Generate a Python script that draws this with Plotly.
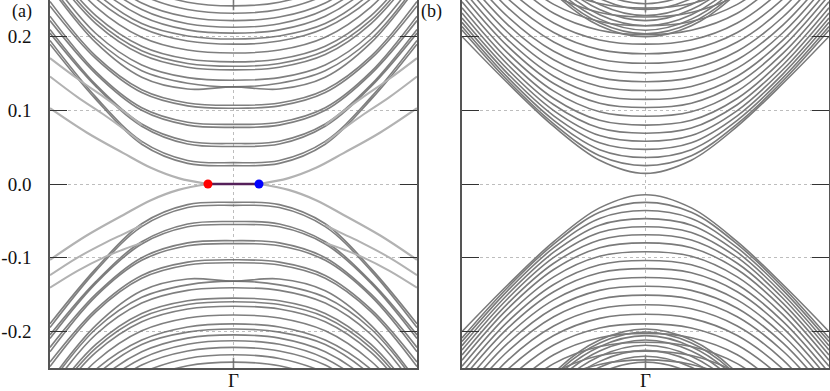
import plotly.graph_objects as go

# k-points (fraction of the path from Gamma to the zone edge); bands are symmetric about Gamma
k_half = [0.0, 0.25, 0.5, 0.75, 1.0]

# ---------------- panel (a) ----------------
a_cond = [
    [0.025, 0.028, 0.054, 0.115, 0.190],
    [0.029, 0.032, 0.058, 0.118, 0.195],
    [0.051, 0.0543, 0.0785, 0.1326, 0.205],
    [0.055, 0.0582, 0.0815, 0.1350, 0.210],
    [0.077, 0.0800, 0.1001, 0.1497, 0.222],
    [0.081, 0.0840, 0.1037, 0.1527, 0.228],
    [0.103, 0.1061, 0.1242, 0.1703, 0.242],
    [0.107, 0.1101, 0.1281, 0.1737, 0.248],
    [0.132, 0.1370, 0.1540, 0.1970, 0.272],
    [0.132, 0.1290, 0.1450, 0.1920, 0.268],
    [0.141, 0.1445, 0.1618, 0.2045, 0.279],
    [0.155, 0.1587, 0.1759, 0.2180, 0.290],
    [0.160, 0.1638, 0.1810, 0.2229, 0.295],
    [0.166, 0.1698, 0.1872, 0.2288, 0.300],
    [0.178, 0.1820, 0.1995, 0.2408, 0.310],
    [0.190, 0.1942, 0.2120, 0.2520, 0.320],
    [0.197, 0.2012, 0.2180, 0.2600, 0.330],
    [0.205, 0.2094, 0.2280, 0.2700, 0.340],
    [0.213, 0.2177, 0.2370, 0.2800, 0.350],
    [0.222, 0.2268, 0.2460, 0.2900, 0.360],
    [0.232, 0.2370, 0.2570, 0.3000, 0.370],
    [0.242, 0.2470, 0.2670, 0.3100, 0.380],
]
a_val = [
    [-0.025, -0.028, -0.054, -0.115, -0.190],
    [-0.029, -0.032, -0.058, -0.118, -0.195],
    [-0.051, -0.0543, -0.0785, -0.1326, -0.205],
    [-0.055, -0.0582, -0.0815, -0.1350, -0.210],
    [-0.077, -0.0800, -0.1001, -0.1497, -0.222],
    [-0.081, -0.0840, -0.1037, -0.1527, -0.228],
    [-0.103, -0.1061, -0.1242, -0.1703, -0.242],
    [-0.107, -0.1101, -0.1281, -0.1737, -0.248],
    [-0.132, -0.1370, -0.1540, -0.1970, -0.272],
    [-0.132, -0.1290, -0.1450, -0.1920, -0.268],
    [-0.141, -0.1445, -0.1618, -0.2045, -0.279],
    [-0.155, -0.1587, -0.1759, -0.2180, -0.290],
    [-0.160, -0.1638, -0.1810, -0.2229, -0.295],
    [-0.166, -0.1698, -0.1872, -0.2288, -0.300],
    [-0.178, -0.1820, -0.1995, -0.2408, -0.310],
    [-0.190, -0.1942, -0.2120, -0.2520, -0.320],
    [-0.197, -0.2012, -0.2180, -0.2600, -0.330],
    [-0.205, -0.2094, -0.2280, -0.2700, -0.340],
    [-0.213, -0.2177, -0.2370, -0.2800, -0.350],
    [-0.222, -0.2268, -0.2460, -0.2900, -0.360],
    [-0.232, -0.2370, -0.2570, -0.3000, -0.370],
    [-0.242, -0.2470, -0.2670, -0.3100, -0.380],
]
# steep crossings right at Gamma (look like short vertical strokes at the frame)
a_gamma_top = [0.236, 0.26]
a_gamma_bot = [-0.236, -0.26]

# edge states (light grey), given as explicit (k, E) paths
edge_k_left = [-1.0, -0.8, -0.6, -0.45, -0.3, -0.139]
edge_k_right = [0.139, 0.3, 0.45, 0.6, 0.8, 1.0]
edge_up_left = [0.103, 0.070, 0.042, 0.022, 0.008, 0.0]
edge_dn_left = [-0.103, -0.070, -0.042, -0.022, -0.008, 0.0]
edge_up_right = [0.0, 0.008, 0.022, 0.042, 0.070, 0.103]
edge_dn_right = [0.0, -0.008, -0.022, -0.042, -0.070, -0.103]
side_k_left = [-1.0, -0.85, -0.7, -0.6, -0.5]
side_k_right = [0.5, 0.6, 0.7, 0.85, 1.0]
side_up_left = [[0.146, 0.118, 0.093, 0.075, 0.056], [0.171, 0.143, 0.117, 0.099, 0.080]]
side_dn_left = [[-0.124, -0.100, -0.080, -0.068, -0.056], [-0.141, -0.118, -0.099, -0.089, -0.080]]
side_up_right = [[0.056, 0.075, 0.093, 0.118, 0.146], [0.080, 0.099, 0.117, 0.143, 0.171]]
side_dn_right = [[-0.056, -0.068, -0.080, -0.100, -0.124], [-0.080, -0.089, -0.099, -0.118, -0.141]]

# zero-energy flat band between the two marked points
flat_k = [-0.139, 0.139]
flat_E = [0.0, 0.0]

# ---------------- panel (b) ----------------
b_cond = [
    [0.0145, 0.0324, 0.0783, 0.1369, 0.2005],
    [0.025, 0.0385, 0.0817, 0.1402, 0.2091],
    [0.036, 0.0467, 0.0866, 0.1445, 0.2140],
    [0.047, 0.0560, 0.0927, 0.1497, 0.2196],
    [0.058, 0.0658, 0.0998, 0.1555, 0.2256],
    [0.069, 0.0760, 0.1077, 0.1621, 0.2323],
    [0.080, 0.0865, 0.1162, 0.1693, 0.2394],
    [0.092, 0.0981, 0.1261, 0.1778, 0.2477],
    [0.104, 0.1098, 0.1365, 0.1869, 0.2566],
    [0.115, 0.1207, 0.1464, 0.1958, 0.2652],
    [0.127, 0.1326, 0.1574, 0.2058, 0.275],
    [0.139, 0.1445, 0.1688, 0.2163, 0.285],
    [0.151, 0.1565, 0.1803, 0.2272, 0.295],
    [0.164, 0.1696, 0.1930, 0.2393, 0.310],
    [0.177, 0.1826, 0.2058, 0.2517, 0.320],
    [0.190, 0.1957, 0.2188, 0.265, 0.330],
    [0.203, 0.2088, 0.2319, 0.280, 0.340],
    [0.215, 0.2209, 0.2441, 0.290, 0.350],
    [0.227, 0.2331, 0.2563, 0.300, 0.360],
    [0.239, 0.2452, 0.268, 0.310, 0.370],
]
b_val = [
    [-0.0145, -0.0324, -0.0783, -0.1369, -0.2005],
    [-0.025, -0.0385, -0.0817, -0.1402, -0.2091],
    [-0.036, -0.0467, -0.0866, -0.1445, -0.2140],
    [-0.047, -0.0560, -0.0927, -0.1497, -0.2196],
    [-0.058, -0.0658, -0.0998, -0.1555, -0.2256],
    [-0.069, -0.0760, -0.1077, -0.1621, -0.2323],
    [-0.080, -0.0865, -0.1162, -0.1693, -0.2394],
    [-0.092, -0.0981, -0.1261, -0.1778, -0.2477],
    [-0.104, -0.1098, -0.1365, -0.1869, -0.2566],
    [-0.115, -0.1207, -0.1464, -0.1958, -0.2652],
    [-0.127, -0.1326, -0.1574, -0.2058, -0.275],
    [-0.139, -0.1445, -0.1688, -0.2163, -0.285],
    [-0.151, -0.1565, -0.1803, -0.2272, -0.295],
    [-0.164, -0.1696, -0.1930, -0.2393, -0.310],
    [-0.177, -0.1826, -0.2058, -0.2517, -0.320],
    [-0.190, -0.1957, -0.2188, -0.265, -0.330],
    [-0.203, -0.2088, -0.2319, -0.280, -0.340],
    [-0.215, -0.2209, -0.2441, -0.290, -0.350],
    [-0.227, -0.2331, -0.2563, -0.300, -0.360],
    [-0.239, -0.2452, -0.268, -0.310, -0.370],
]
b_cluster_top = [
    [0.200, 0.215, 0.260, 0.34, 0.46],
    [0.204, 0.219, 0.264, 0.35, 0.47],
    [0.209, 0.224, 0.269, 0.355, 0.48],
    [0.215, 0.230, 0.275, 0.36, 0.49],
    [0.222, 0.237, 0.282, 0.37, 0.50],
    [0.229, 0.244, 0.289, 0.38, 0.51],
    [0.237, 0.252, 0.297, 0.39, 0.52],
    [0.245, 0.260, 0.305, 0.40, 0.53],
]
b_cluster_bot = [
    [-0.197, -0.212, -0.257, -0.34, -0.46],
    [-0.201, -0.216, -0.261, -0.35, -0.47],
    [-0.206, -0.221, -0.266, -0.355, -0.48],
    [-0.212, -0.227, -0.272, -0.36, -0.49],
    [-0.219, -0.234, -0.279, -0.37, -0.50],
    [-0.226, -0.241, -0.286, -0.38, -0.51],
    [-0.234, -0.249, -0.294, -0.39, -0.52],
    [-0.242, -0.257, -0.302, -0.40, -0.53],
]
b_gamma_top = [0.233, 0.26]
b_gamma_bot = [-0.233, -0.26]

y_ticks = [-0.2, -0.1, 0.0, 0.1, 0.2]
y_tick_text = ["-0.2", "-0.1", "0.0", "0.1", "0.2"]
x_tick_text = ["Γ"]

A_BULK = "rgba(105,105,105,0.85)"
A_EDGE = "rgba(178,178,178,1)"
B_LINE = "rgba(122,122,122,1)"
FONT = "Liberation Serif"


def full_k():
    return [-k for k in k_half[::-1]] + k_half[1:]


def full_band(vals):
    return list(vals[::-1]) + list(vals[1:])


fig = go.Figure()


def add_line(x, y, color, width, xa, ya, shape="spline"):
    fig.add_trace(go.Scatter(x=x, y=y, mode="lines", xaxis=xa, yaxis=ya,
                             line=dict(color=color, width=width, shape=shape, smoothing=1.0),
                             hoverinfo="skip", showlegend=False))


for band in a_cond + a_val:
    add_line(full_k(), full_band(band), A_BULK, 1.6, "x", "y")
for ys in [a_gamma_top, a_gamma_bot]:
    add_line([0, 0], ys, A_BULK, 1.6, "x", "y", "linear")
for ys in side_up_left + side_dn_left:
    add_line(side_k_left, ys, A_EDGE, 2.0, "x", "y")
for ys in side_up_right + side_dn_right:
    add_line(side_k_right, ys, A_EDGE, 2.0, "x", "y")
for ys in [edge_up_left, edge_dn_left]:
    add_line(edge_k_left, ys, A_EDGE, 2.2, "x", "y")
for ys in [edge_up_right, edge_dn_right]:
    add_line(edge_k_right, ys, A_EDGE, 2.2, "x", "y")

fig.add_trace(go.Scatter(x=flat_k, y=flat_E, mode="lines", xaxis="x", yaxis="y",
                         line=dict(color="#55205a", width=2.5), hoverinfo="skip", showlegend=False))
fig.add_trace(go.Scatter(x=[flat_k[0]], y=[flat_E[0]], mode="markers", xaxis="x", yaxis="y",
                         marker=dict(color="#ff0000", size=9), hoverinfo="skip", showlegend=False))
fig.add_trace(go.Scatter(x=[flat_k[1]], y=[flat_E[1]], mode="markers", xaxis="x", yaxis="y",
                         marker=dict(color="#0000ff", size=9), hoverinfo="skip", showlegend=False))

for band in b_cond + b_val + b_cluster_top + b_cluster_bot:
    add_line(full_k(), full_band(band), B_LINE, 1.6, "x2", "y2")
for ys in [b_gamma_top, b_gamma_bot]:
    add_line([0, 0], ys, B_LINE, 1.6, "x2", "y2", "linear")

common_x = dict(range=[-1, 1], tickvals=[0], ticktext=x_tick_text, ticks="",
                showgrid=True, gridcolor="#bdbdbd", griddash="dot", gridwidth=1,
                zeroline=False, showline=True, linecolor="#555555", linewidth=1.5, mirror=True,
                automargin=False, ticklabelstandoff=-6,
                tickfont=dict(family=FONT, size=19, color="#111"))
common_y = dict(range=[-0.25, 0.25], tickvals=y_ticks, ticktext=y_tick_text, ticks="inside",
                ticklen=17, tickcolor="#333333", tickwidth=1,
                showgrid=True, gridcolor="#bdbdbd", griddash="dot", gridwidth=1,
                zeroline=False, showline=True, linecolor="#555555", linewidth=1.5, mirror="ticks",
                automargin=False,
                tickfont=dict(family=FONT, size=19, color="#111"))

fig.update_layout(
    width=830, height=391,
    margin=dict(l=0, r=0, t=0, b=0, autoexpand=False),
    paper_bgcolor="white", plot_bgcolor="white",
    xaxis=dict(domain=[0.0602, 0.5024], anchor="y", **common_x),
    yaxis=dict(domain=[0.0588, 1.0], anchor="x", ticklabelstandoff=13, **common_y),
    xaxis2=dict(domain=[0.5566, 0.9988], anchor="y2", **common_x),
    yaxis2=dict(domain=[0.0588, 1.0], anchor="x2", showticklabels=False, **common_y),
    annotations=[
        dict(text="(a)", x=22 / 830, y=1 - 11 / 391, xref="paper", yref="paper", showarrow=False,
             xanchor="center", yanchor="middle",
             font=dict(family=FONT, size=18, color="#111")),
        dict(text="(b)", x=431 / 830, y=1 - 11 / 391, xref="paper", yref="paper", showarrow=False,
             xanchor="center", yanchor="middle",
             font=dict(family=FONT, size=18, color="#111")),
    ],
)

# remove the browser's default 8px page margin so the 830x391 figure fills the window exactly
fig.write_html("out.html", config={"displayModeBar": False},
               post_script="document.body.style.margin='0';document.body.style.overflow='hidden';")
